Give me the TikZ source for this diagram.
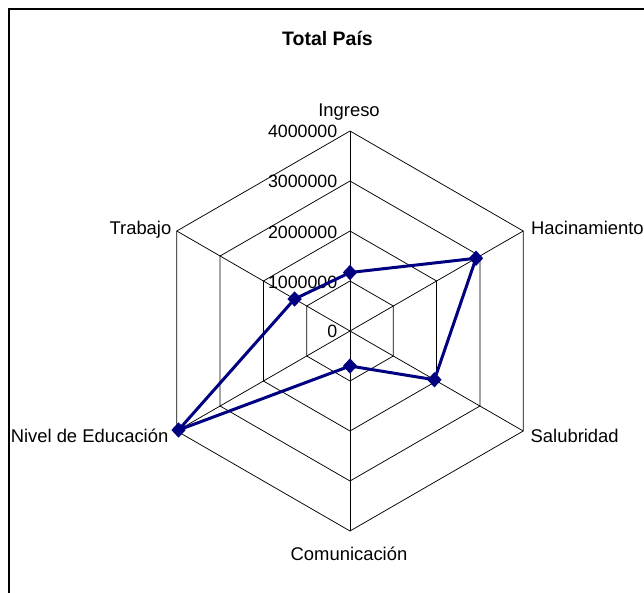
\documentclass[tikz,border=0pt]{standalone}
\usepackage{fontspec}
\setmainfont{Liberation Sans}
\usetikzlibrary{shapes.geometric}
\definecolor{navyblue}{RGB}{0,0,128}
\begin{document}
\begin{tikzpicture}[x=1pt,y=-1pt,
  grid/.style={draw=black,line width=0.75pt},
  series/.style={draw=navyblue,line width=3pt,line join=round},
  mk/.style={diamond,fill=navyblue,draw=none,inner sep=0pt,minimum width=14.5pt,minimum height=15.5pt},
  axlabel/.style={font=\fontsize{18.4}{20}\selectfont,inner sep=0pt},
  ticklabel/.style={font=\fontsize{17.8}{20}\selectfont,inner sep=0pt,anchor=base east},
  ]
\useasboundingbox (0,0) rectangle (644,592);
\clip (0,0) rectangle (644,592);
\fill[white] (0,0) rectangle (644,592);
\draw[line width=1.6pt] (8.7,9) rectangle (700,650);
\node[font=\bfseries\fontsize{19.5}{22}\selectfont,anchor=base,inner sep=0pt] (title) at (327.5,45) {Total País};
\coordinate (c) at (350,331);
% rings
\foreach \k in {1,2,3,4}{
  \draw[grid] (350,{331-50*\k}) \foreach \a in {-30,30,90,150,210}{ -- ({350+50*\k*cos(\a)},{331+50*\k*sin(\a)})} -- cycle;
}
% spokes
\foreach \n/\a in {I/-90,H/-30,S/30,C/90,N/150,T/210}{
  \coordinate (v\n) at ({350+200*cos(\a)},{331+200*sin(\a)});
  \draw[grid] (c) -- (v\n);
}
% tick labels
\node[ticklabel] (t0) at (337.5,337.5) {0};
\node[ticklabel] (t1) at (337.5,288.5) {1000000};
\node[ticklabel] (t2) at (337.5,238) {2000000};
\node[ticklabel] (t3) at (337.5,187.5) {3000000};
\node[ticklabel] (t4) at (337.5,137.5) {4000000};
% axis labels
\node[axlabel,anchor=base] (lI) at (349,116) {Ingreso};
\node[axlabel,anchor=base west] (lH) at (531,234) {Hacinamiento};
\node[axlabel,anchor=base west] (lS) at (530.5,442) {Salubridad};
\node[axlabel,anchor=base] (lC) at (349,560) {Comunicación};
\node[axlabel,anchor=base east] (lN) at (168.5,442) {Nivel de Educación};
\node[axlabel,anchor=base east] (lT) at (171.5,234) {Trabajo};
% data (value in millions, 50 px per million)
\foreach \n/\a/\v in {I/-90/1.17,H/-30/2.91,S/30/1.95,C/90/0.70,N/150/3.96,T/210/1.28}{
  \coordinate (p\n) at ({350+50*\v*cos(\a)},{331+50*\v*sin(\a)});
}
\draw[series] (pI) -- (pH) -- (pS) -- (pC) -- (pN) -- (pT) -- cycle;
\foreach \n in {I,H,S,C,N,T}{
  \node[mk] (m\n) at (p\n) {};
}
\end{tikzpicture}
\end{document}
